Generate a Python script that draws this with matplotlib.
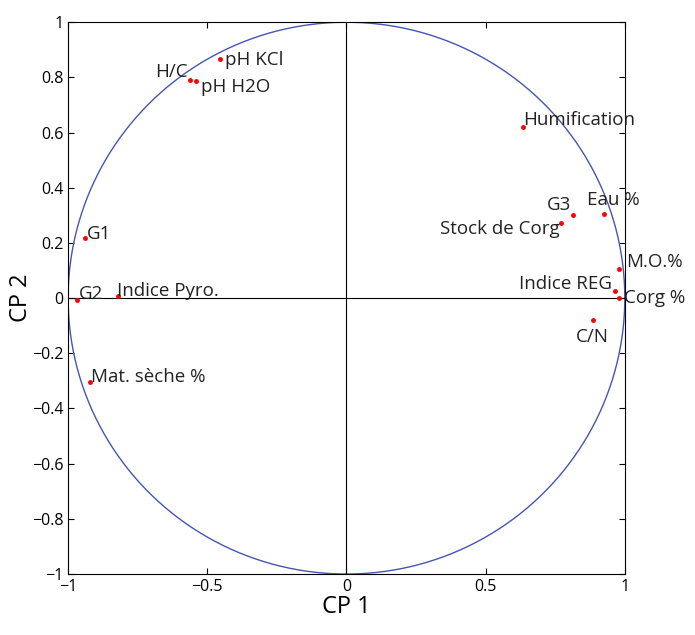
import numpy as np
import matplotlib.pyplot as plt

plt.rcParams['font.family'] = ['Open Sans', 'DejaVu Sans']

# variable coordinates on the first two principal components
labels = ['pH KCl', 'H/C', 'pH H2O', 'Humification', 'G3', 'Eau %',
          'Stock de Corg', 'M.O.%', 'Indice REG', 'Corg %', 'C/N',
          'G1', 'G2', 'Indice Pyro.', 'Mat. sèche %']
cp1 = [-0.453, -0.561, -0.542, 0.633, 0.813, 0.924,
       0.772, 0.980, 0.963, 0.978, 0.884,
       -0.938, -0.968, -0.819, -0.923]
cp2 = [0.868, 0.790, 0.787, 0.621, 0.302, 0.304,
       0.271, 0.104, 0.025, 0.001, -0.080,
       0.218, -0.005, 0.007, -0.305]

# text placement: (dx, dy) in points, horizontal alignment
label_pos = {
    'pH KCl': (3, -1, 'left'),
    'H/C': (-2, 6, 'right'),
    'pH H2O': (4, -4, 'left'),
    'Humification': (0, 5, 'left'),
    'G3': (-1, 7, 'right'),
    'Eau %': (-12, 10, 'left'),
    'Stock de Corg': (-1, -4, 'right'),
    'M.O.%': (5, 5, 'left'),
    'Indice REG': (-2, 5, 'right'),
    'Corg %': (4, 0, 'left'),
    'C/N': (0, -12, 'center'),
    'G1': (1, 3, 'left'),
    'G2': (1, 4, 'left'),
    'Indice Pyro.': (-1, 4, 'left'),
    'Mat. sèche %': (1, 4, 'left'),
}

fig = plt.figure(figsize=(6.95, 6.35), dpi=100)
ax = fig.add_axes([0.098, 0.096, 0.801, 0.869])

# correlation circle and axes through the origin
t = np.linspace(0, 2 * np.pi, 400)
ax.plot(np.cos(t), np.sin(t), color='#4455b5', lw=1.0)
ax.axhline(0, color='black', lw=0.8)
ax.axvline(0, color='black', lw=0.8)

ax.plot(cp1, cp2, 'o', color='red', markersize=2.5, zorder=3)
for name, x, y in zip(labels, cp1, cp2):
    dx, dy, ha = label_pos[name]
    ax.annotate(name, (x, y), xytext=(dx, dy), textcoords='offset points',
                ha=ha, va='center', fontsize=13.5, color='#222222')

ax.set_xlim(-1, 1)
ax.set_ylim(-1, 1)
ax.set_xticks(np.arange(-1, 1.01, 0.5))
ax.set_yticks(np.arange(-1, 1.01, 0.2))
ax.set_xticklabels(['−1', '−0.5', '0', '0.5', '1'])
ax.set_yticklabels(['−1', '−0.8', '−0.6', '−0.4', '−0.2', '0',
                    '0.2', '0.4', '0.6', '0.8', '1'])
ax.tick_params(direction='in', top=True, right=True, labelsize=11.5,
               length=4, width=0.8)
for s in ax.spines.values():
    s.set_linewidth(0.8)
ax.set_xlabel('CP 1', fontsize=17, labelpad=0)
ax.set_ylabel('CP 2', fontsize=17, labelpad=-1)

fig.savefig('out.png', dpi=100)
